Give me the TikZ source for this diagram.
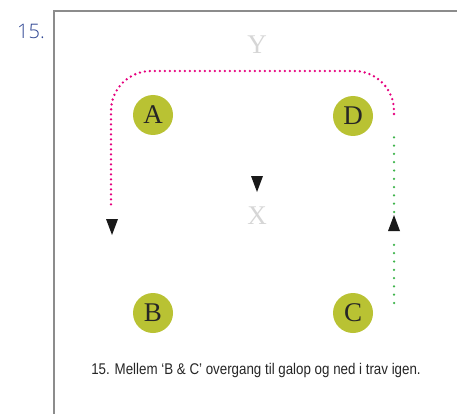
\documentclass[tikz,border=0pt]{standalone}
\usepackage{fontspec}
\setmainfont{Liberation Serif}
\newfontfamily\capfont{Liberation Sans}
\newfontfamily\numfont{Open Sans Light}
\definecolor{framegray}{HTML}{8C8C8C}
\definecolor{ballcol}{HTML}{B9C233}
\definecolor{pinkdot}{HTML}{E6007E}
\definecolor{greendot}{HTML}{3DB44A}
\definecolor{lightgray}{HTML}{D6D6D6}
\definecolor{inkblue}{HTML}{2E4593}
\begin{document}
\begin{tikzpicture}[x=1pt,y=-1pt,
  ball/.style={circle,fill=ballcol,minimum size=40pt,inner sep=0pt,font=\fontsize{27}{27}\selectfont,text=black!85},
  marker/.style={text=lightgray,font=\fontsize{27}{27}\selectfont,inner sep=0pt},
  pinkpath/.style={pinkdot,line width=2.6pt,line cap=round,dash pattern=on 0pt off 5pt},
  greenpath/.style={greendot,line width=2.5pt,line cap=round,dash pattern=on 0pt off 8.3pt},
  tri/.style={fill=black!90}]
\useasboundingbox (0,0) rectangle (457,414);
\fill[white] (0,0) rectangle (457,414);
% frame
\draw[framegray,line width=1.6pt] (457,11) -- (54,11) -- (54,414);
\node[text=inkblue,font=\numfont\fontsize{20}{20}\selectfont,inner sep=0pt] (num) at (31,31) {15.};
% balls
\node[ball] (A) at (153,115) {A};
\node[ball] (D) at (353,116) {D};
\node[ball] (B) at (153,313) {B};
\node[ball] (C) at (353,313) {C};
\node[marker] (Y) at (257,45) {Y};
\node[marker] (X) at (257,216) {X};
% pink path
\draw[pinkpath,rounded corners=40pt] (394,114) -- (394,71) -- (111,71) -- (111,207);
% green path
\draw[greenpath] (394,303) -- (394,237);
\draw[greenpath] (394,212) -- (394,134);
% arrowheads
\fill[tri] (251,176) -- (263,176) -- (257,192) -- cycle;
\fill[tri] (106,219) -- (118,219) -- (112,235) -- cycle;
\fill[tri] (388,231) -- (400,231) -- (394,215) -- cycle;
% caption
\node[inner sep=0pt,text=black!85] (cap) at (256,370) {\scalebox{0.86}[1]{\capfont\fontsize{15.5}{15.5}\selectfont 15. Mellem ‘B \& C’ overgang til galop og ned i trav igen.}};
\end{tikzpicture}
\end{document}
